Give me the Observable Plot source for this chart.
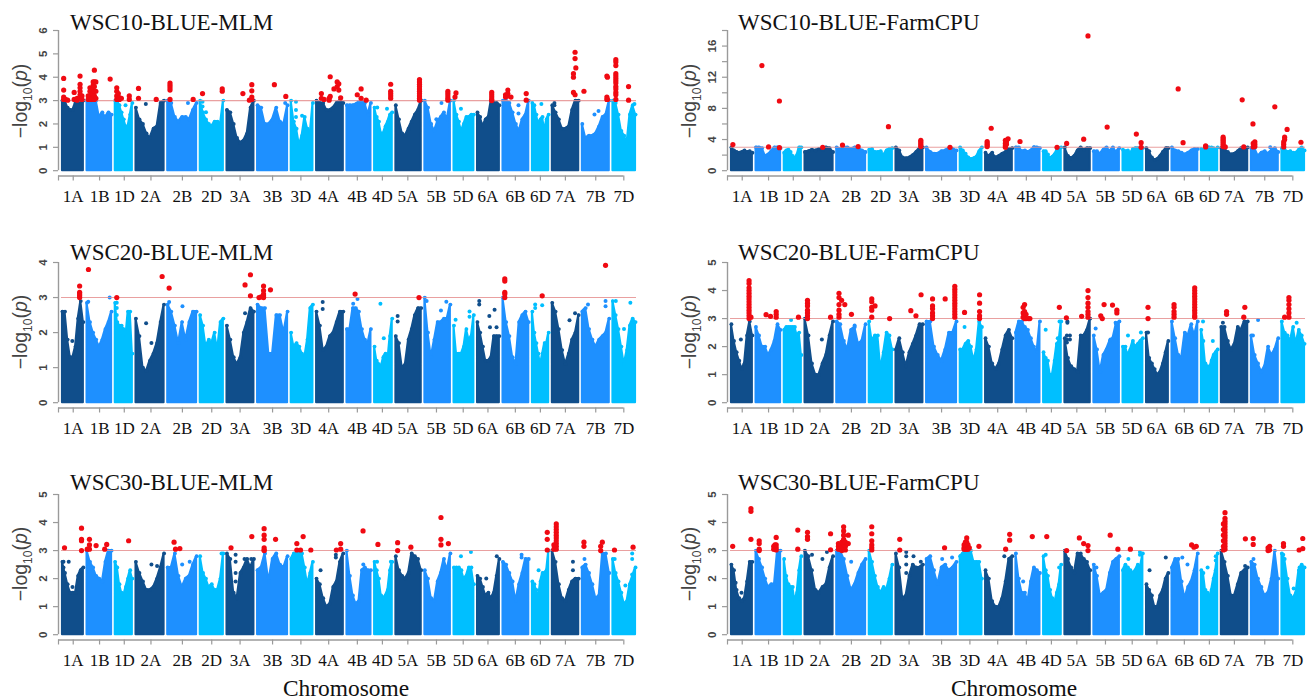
<!DOCTYPE html>
<html>
<head>
<meta charset="utf-8">
<script src="https://cdn.jsdelivr.net/npm/d3@7"></script>
<script src="https://cdn.jsdelivr.net/npm/@observablehq/plot@0.6"></script>
<style>
html,body{margin:0;padding:0;background:#fff;width:1311px;height:700px;overflow:hidden}
#page{position:relative;width:1311px;height:700px}
.panel{position:absolute}
.title{position:absolute;font:23px "Liberation Serif",serif;color:#111;white-space:nowrap;line-height:1}
.ylab{position:absolute;font:19.5px "Liberation Sans",sans-serif;color:#444;white-space:nowrap;transform:translate(-50%,-50%) rotate(-90deg);line-height:1}
.ylab sub{font-size:12px;line-height:0}
.xlab{position:absolute;font:23.4px "Liberation Serif",serif;color:#111;transform:translateX(-50%);white-space:nowrap;line-height:1}
[aria-label="y-axis tick label"]{font:bold 11.5px "Liberation Sans",sans-serif;fill:#444}
[aria-label="x-axis tick label"]{font:17px "Liberation Serif",serif;fill:#111}
</style>
</head>
<body>
<div id="page"></div>
<script>
// Wheat chromosomes and their lengths (Mb)
const chromosomes = ["1A","1B","1D","2A","2B","2D","3A","3B","3D","4A","4B","4D","5A","5B","5D","6A","6B","6D","7A","7B","7D"];
const chromLengths = [594,689,495,780,801,651,750,830,615,745,674,509,709,713,566,618,720,473,736,750,638];
const chromGap = 45;
const genomeTicks = [-78,305,990,1633,2327,3145,3908,4645,5490,6227,6950,7695,8347,9008,9753,10449,11092,11805,12456,13107,13896,14626];
const threshold = 3;

// Upper edge of the dense cloud of SNPs: nine readings along each chromosome
const wsc10MlmTops = [
[3,3,2.7,2.6,2.6,2.9,2.9,2.9,3],[3,3,3,3,2.3,2.5,2.3,2.5,2.4],[3,3,2.8,2.5,2.2,1.9,1.9,2.4,2.9],
[2.7,2.2,2,1.6,1.4,1.8,1.9,2.9,3],[3,2.9,2.3,2.1,2.3,2.3,2.2,2.6,2.9],[3,2.5,2.2,2,1.9,2.1,2.1,2,3],
[2.6,2.5,2,1.4,1.2,1.3,1.6,2.7,3],[2.8,2.7,2,2,2.2,2.7,2.1,2,2.8],[3,2.1,1.8,1.1,1.5,2.3,1.8,1.6,2.9],
[3,2.9,2.9,2.6,2.6,2.7,2.9,3,2.9],[2.8,2.8,2.8,2.85,2.95,2.95,2.9,2.4,2.9],[2.7,2.3,2.1,1.6,1.6,1.9,2.1,2.4,2.5],
[2.8,2.2,1.6,1.5,1.8,2.1,2.4,2.6,3],[3,2.7,2,1.7,2.1,2.3,2.5,2.2,3],[3,2.4,2.1,1.7,2,2.3,2.3,2.4,2.4],
[2.5,2.3,1.9,2.2,2.3,3,2.9,2.9,2.8],[3,3,2.9,2.5,2,1.7,2.2,2.4,3],[2.9,2.8,2.4,2,2.2,2.3,1.7,2.2,2.4],
[2.8,2.5,2.2,1.8,1.8,1.9,2.6,3,3],[2,1.4,1.5,1.5,1.6,1.9,2.3,2.4,3],[3,2.9,2.4,1.7,1.5,1.2,2.4,2.8,2.4]];
const wsc10FarmTops = [
[3,2.6,2.4,2.3,2.4,2.6,2.4,2.5,2.3],[3,3,2.9,1.9,2.1,2.5,3,3,2.9],[2.3,2.6,2.7,2.4,1.9,1.6,2,3,3],
[2.4,2.5,2.7,2.6,2.8,2.7,3,2.9,2.4],[3,2.8,3,3,2.8,3,2.9,2.6,2.4],[2.7,2.8,2.4,2.4,2.5,2,2.6,2.8,2.9],
[3,2.6,1.7,1.6,1.7,2,2.4,2.9,3],[3,2.4,2.2,2.2,2.5,2.6,2.9,2.8,2.6],[3,2.6,2.2,1.7,1.5,1.6,1.8,2.5,3],
[2.3,1.9,2.3,1.7,1.9,2.2,2.4,2.8,2.9],[3,3,2.5,2.6,2.4,2.6,3,3,2.9],[2.5,2.5,2.1,1.6,1.8,2.1,2.6,2.9,3],
[3,1.9,1.6,1.9,2.6,3,2.7,2.9,2.9],[2.5,2.5,2.2,2.7,3,2.5,3,2.4,2.9],[2.7,2.5,2.6,2.2,2.8,2.9,2.9,2.7,2.9],
[2.9,2.5,1.7,1.4,1.5,1.9,2.4,2.8,2.9],[3,2.6,2.5,2.3,2.1,2.3,2.6,2.8,2.8],[2.8,2.5,2.9,2.6,2.9,3,2.9,2.6,3],
[2.9,2.7,2.4,2.1,2.2,2.5,2.9,2.6,3],[2.9,2.9,1.9,2.3,2.5,2.2,2.6,2.9,2.4],[2.9,2.7,2.4,2.5,2.3,2.3,2.7,3,2.6]];
const wsc20MlmTops = [
[2.6,2.6,1.8,1.3,1.3,1.6,2.4,2.9,2.3],[2.85,2.3,2,1.8,1.6,1.8,2.1,2.3,2.6],[2.85,2.3,2.2,2.2,2.1,1.9,2.6,2.6,1.4],
[2.4,1.9,1,0.9,1.2,1.4,1.7,2.3,2.8],[2.8,2.6,2.2,1.7,2.3,1.8,2.3,2.6,2.6],[2.5,2.2,1.6,1.8,1.7,2,1.5,2.3,2.4],
[2.2,1.8,1.3,1.1,1.3,2,2.3,2.7,2.6],[2.8,2.7,2.7,1.4,1.4,2.5,2.5,2,2.6],[2,1.6,1.7,1.6,1.4,1.3,1.8,2.7,2.8],
[2.6,2.2,1.5,1.6,1.9,2,2.3,2.6,2.6],[2.1,2.1,2.7,2.7,2.6,2.1,1.8,1.7,2.1],[1.6,1.2,1.1,1,1.3,1.4,1.2,1.9,2.4],
[1.9,1.7,1,1.1,1.8,2.1,2.5,2.7,2.7],[3,2,1.3,1.8,2.3,2.3,2.4,2.4,2.8],[2.2,1.4,1.4,1.4,1.6,2.1,1.8,1.9,2.5],
[2.3,2,1.6,1.2,1.2,1.3,1.9,1.9,1.9],[3,2.3,1.9,1.3,1.1,2.3,2.5,2.6,2.3],[2.6,2,1.7,1.4,1.1,1.4,1.7,1.7,2],
[2.85,2.6,2.1,1.5,1.1,1.4,1.8,2,2.5],[2.6,2.7,2.1,1.8,1.6,1.8,1.9,2,2.4],[2.9,2.5,2.1,1.6,1.1,1.5,2.2,2.4,2.3]];
const wsc20FarmTops = [
[2.8,2.2,1.8,1.5,1.2,1.4,2.4,2.9,2.4],[2.7,2.4,2,2,1.7,1.9,2.2,2.8,2.6],[2.6,2.7,2.7,2.7,2.7,2.7,2.4,2.5,1.7],
[3,2.4,1.4,1,1,1.4,1.7,2.4,2.9],[2.9,2.8,2.2,1.9,2.6,2.7,2.1,2.2,2.8],[2.9,2.2,2.4,2.4,1.2,1.8,2.5,2.4,1.9],
[1.9,2.3,1.8,1.3,1.8,2.1,2.4,2.8,2.8],[2.9,2.9,2,1.7,1.5,1.9,2.5,2.5,2.9],[1.9,1.9,2.1,2.2,2,1.5,1.9,2.9,2.7],
[2.3,2,1.4,1.2,1.4,1.9,2.4,2.6,2.3],[2.5,2.9,2.9,2.7,2.6,2.3,2,1.8,2.9],[1.8,1.6,1.5,1,1,1.5,2.1,2.2,2.9],
[2.3,1.6,1.3,1.2,1.1,2.4,2.4,2.6,3],[2.4,1.9,1.1,1.7,1.9,2.2,2.3,2.8,2.9],[2,2,1.7,1.9,2.2,2,2.1,2.2,2.3],
[2.5,1.6,1.4,1.2,1,1.1,1.4,1.8,2.2],[2.9,2.3,1.7,1.6,2.5,2.4,2.8,2.4,2.9],[2.6,2.2,1.4,1.3,1.2,1.5,1.7,1.8,1.9],
[2.7,2.7,2.2,1.9,2.1,2.7,2.6,2.9,2.9],[2.4,1.7,1.4,1.1,1.3,2,1.7,1.9,2.3],[2.9,2.5,2.4,2.2,2.7,2.1,2.6,2.4,2.1]];
const wsc30MlmTops = [
[2.6,2.2,1.8,1.5,1.5,1.5,2.1,2.3,2.4],[3,2.6,2.4,2.1,2,1.9,2.6,3,3],[2.6,2.4,1.8,1.5,1.4,1.7,2,2.3,2],
[2.6,2.2,1.9,1.6,1.6,1.7,2,2.4,2.9],[2.4,2.4,2.9,2.1,1.7,2,2.1,2.5,2.8],[2.8,2.2,2,1.7,1.8,1.6,1.6,2,2.9],
[2.9,2.7,1.5,1.3,2.2,2.4,2.7,2.4,2.7],[2.3,2.4,2.9,1.9,2.7,2.9,2.5,2.4,2.8],[2.7,2.9,2.9,2.9,2.9,2.4,1.8,2.2,2.6],
[2,1.8,1.3,1,1.1,1.7,1.9,2.6,2.9],[3,2.1,1.4,1.1,1.2,2.3,2.4,2.3,2.3],[2.6,2.3,2,1.4,1.3,1.4,1.6,2.3,2.6],
[2.8,2.3,2.1,2,2.2,2.9,2.8,2.7,2.3],[2.3,2,1.3,1.2,1.9,2.2,2.7,2.3,2.9],[2.4,2.4,2.4,2.3,2,2.1,2.4,2.4,1.8],
[2.1,2,1.7,1.4,1.5,1.3,1.5,2.1,2.7],[2.6,2.5,2.2,1.9,1.2,1.8,2.2,2.7,2.7],[1.9,1.8,1.6,1.3,1.9,2.2,2.2,2.3,3],
[3,2.6,1.8,1.3,1.2,1.6,1.9,2,2],[2.4,2.5,2.2,1.8,1.3,1.4,2.9,2.9,2.2],[2.7,2.2,1.9,1.5,1.1,1.2,1.8,2.1,2.4]];
const wsc30FarmTops = [
[2.5,2.3,1.6,1.3,1.2,1.3,1.9,2.6,2.6],[3,2.7,2.4,2,1.7,1.8,1.8,3,3],[2.7,2.1,1.8,1.7,1.7,1.2,1.5,2.3,2.8],
[3,2.8,2.3,1.6,1.5,1.7,1.8,2.4,2.8],[3,3,2.7,2.1,1.6,1.8,2.2,2.5,2.7],[3,2.6,2.1,1.7,1.5,1.7,1.6,2,2.5],
[2.9,2.4,1.3,1.4,2.1,2.5,2.4,2.4,2.5],[2.7,2.8,2.3,1.8,2.4,2.5,2.3,2.4,2.6],[2.8,2.9,3,3,3,2.6,2.6,2.6,2],
[2.3,2,1.2,1,1,1.3,1.9,2.7,2.8],[2.9,2,1.5,1.5,1.2,1.9,2.4,2.3,2.2],[2.8,2.3,2.1,1.6,1.3,1.1,1.5,1.8,2.5],
[3,2.7,2.4,2.2,2.9,2.9,2.7,2.6,2.3],[2.5,2.1,1.4,1.5,1.6,2.2,2.6,2.7,2.8],[2.3,2.5,2.4,2.3,2.2,2.3,2.5,2.4,2.9],
[1.8,1.6,1.4,1,1,1.4,1.6,2,2.2],[2.4,2.7,2.7,1.9,1.3,1.7,1.9,2.3,2.9],[2.3,2.2,1.6,1.5,1.3,1.6,2,2.3,2.9],
[3,2.6,2.1,1.4,1.4,1.8,2.2,2.3,2.4],[2.6,2.5,2,1.7,1.4,1.5,2,3,2],[2.9,2.7,2,1.4,1.3,1.5,2.3,2.5,2.4]];

// Significant SNPs: [chromosome, % along chromosome, [-log10(p) values]]
const wsc10MlmHits = [
["1A",6,[3.95,3.45,3.15,3.05]],["1A",15,[3.05]],["1A",25,[3.02]],["1A",56,[3.35,3.05]],["1A",70,[3.1,3.02]],["1A",84,[4.05,3.7,3.55,3.4,3.25,3.1]],["1A",93,[3.05,3.2]],
["1B",5,[3.05,3.2]],["1B",12,[3.05,3.2,3.4,3.55]],["1B",18,[3.05,3.3,3.5]],["1B",25,[3.1,3.3,3.65,3.8]],["1B",30,[3.05,3.2,3.4,3.6,3.8,4.3]],["1B",36,[3.1,3.4,3.8]],["1B",94,[3.92]],
["1D",9,[3.05,3.2,3.4,3.55]],["1D",18,[3.05,3.15,3.3]],["1D",25,[3.05,3.12]],["1D",36,[3.1]],["1D",82,[3.05,3.2]],
["2A",9,[3.52,3.1]],["2A",72,[3.05]],["2B",8,[3.75,3.65,3.55,3.45,3.05]],["2B",88,[3.05]],["2D",10,[3.3]],["2D",95,[3.5,3.4]],
["3A",59,[3.3]],["3A",83,[3.02]],["3A",92,[3.68,3.42,3.15,3.05]],["3B",56,[3.68]],["3B",94,[3.18]],
["4A",18,[3.3,3.1]],["4A",28,[3.05]],["4A",47,[3.02,3.1]],["4A",51,[4.02,3.18]],["4A",65,[3.5]],["4A",77,[3.8,3.6]],["4A",83,[3.72,3.45]],["4A",90,[3.12]],
["4B",43,[3.25]],["4B",59,[3.5,3.1]],["4B",80,[3.02]],["4D",91,[3.7,3.4,3.3,3.2,3.1]],
["5A",93,[3.9,3.8,3.7,3.6,3.5,3.4,3.3,3.2,3.1,3.02]],["5B",90,[3.4,3.3,3.2,3.1,3.02]],["5D",5,[3.15]],["5D",10,[3.33]],
["6A",65,[3.35,3.25,3.15,3.05,3]],["6B",10,[3.25,3.15]],["6B",19,[3.45,3.3,3.2]],["6B",31,[3.15]],["6B",90,[3.3,3.02]],
["7A",80,[4.15,4,3.35]],["7A",86,[5.07,4.8,3.25]],["7A",89,[4.4]],["7B",6,[3.4]],["7B",91,[4.05,3.15,3.05]],["7B",93,[4,3.05]],
["7D",13,[4.75,4.65,4.5,4.15,4.05,3.95,3.85,3.75,3.6,3.5,3.35,3.25,3.05]],["7D",69,[3.6,3.02]]];
const wsc10FarmHits = [
["1A",7,[3.35]],["1B",24,[13.5]],["1B",51,[3.05]],["1B",95,[8.95,2.95]],["2A",63,[3]],["2B",20,[3.3]],["2B",74,[3.1]],["2D",83,[5.65]],
["3A",92,[3.9,3.7,3.5,3.3,3.1]],["3B",78,[3]],["4A",6,[3.75,3.5,3.3,3.1]],["4A",21,[5.45]],["4A",74,[3.9,3.5,3.2,3]],["4A",78,[3.7,3.4]],["4A",84,[4.1]],
["4B",17,[3.75]],["4D",76,[3]],["5A",7,[3.5]],["5A",74,[4.05]],["5A",91,[17.3]],["5B",52,[5.6]],["5D",67,[4.7]],["5D",91,[3.6,3]],
["6B",24,[10.5]],["6B",43,[3.6]],["6D",26,[3.2,3.05]],["7A",7,[4.3,4.1,3.9,3.7,3.5,3.3,3.1]],["7A",15,[3.05]],["7A",79,[9.1]],["7A",85,[3.05]],
["7B",6,[6]],["7B",7,[3.5,3.05]],["7B",13,[3.7,3.4,3.1]],["7B",87,[8.2]],["7D",8,[3.7,3.4,3.05]],["7D",12,[4.3,4]],["7D",23,[5.3]],["7D",84,[3.65]]];
const wsc20MlmHits = [
["1A",82,[3.33,3.15,3.1,3.05,3]],["1B",6,[3.8]],["1D",9,[3]],["2A",93,[3.6]],["2B",5,[3.27]],["3A",67,[3.36]],["3A",87,[3.65,3.05]],
["3B",5,[3]],["3B",12,[3.02]],["3B",20,[3.33,3.2,3.1,3.05,3]],["3B",43,[3.22]],["4B",34,[3.1]],["5A",91,[3]],["6B",7,[3.53,3.47,3.15,3.1,3]],["6D",60,[3.05]],["7B",86,[3.92]]];
const wsc20FarmHits = [
["1A",84,[4.35,4.25,4.1,4,3.9,3.8,3.7,3.6,3.5,3.4,3.3,3.2,3.1,3]],["1A",93,[3.05]],["1B",41,[3.14]],["1B",59,[3.08]],["1B",82,[3.25,3.15,3.05]],["1D",83,[3.05]],
["2A",9,[3.65,3.55,3.45,3.3,3.2,3.1,3]],["2A",91,[3.05]],["2B",8,[3.9,3.75,3.5,3.3,3.15,3.05]],["2B",17,[3.65]],["2B",28,[3.5]],["2B",51,[3.15]],
["2D",11,[3.7,3.6,3.4,3.3,3.05]],["2D",25,[3.45]],["2D",88,[3]],["3A",55,[3.28]],["3A",74,[3.1]],["3A",93,[3.85]],
["3B",20,[3.7,3.45,3.35,3.2,3.1,3]],["3B",62,[3.7]],["3B",94,[4.15,4.05,3.95,3.85,3.75,3.65,3.55,3.45,3.35,3.25,3.15,3.05]],["3D",20,[3.22]],["3D",89,[3.85,3.55,3.25,3.1,3]],
["4B",30,[3.4,3.2,3.05]],["4B",36,[3.5,3.25,3.1,3]],["4B",42,[3.15,3]],["4B",52,[3]],["4B",58,[3]],["4D",89,[3.4]],
["5A",6,[3.03]],["5A",66,[3.08]],["5A",91,[4,3.75,3.55,3.4,3.25,3.15,3.05]],["5B",27,[3.1]],["5B",33,[3]],["5B",40,[3.5]],["5B",73,[3.48]],["5B",90,[3.3,3.2]],
["6A",7,[3.4,3]],["6B",8,[3.5,3.4,3.25,3.15,3.05]],["6B",88,[4.1,4,3.9,3.8,3.7,3.6,3.5,3.4,3.3,3.2,3.1,3.05]],
["7A",20,[3.25,3.15]],["7A",85,[3.05]],["7A",89,[3.4]],["7D",12,[3.05]],["7D",31,[3.75,3.65,3.5,3.35,3.2,3.05]]];
const wsc30MlmHits = [
["1A",10,[3.1]],["1A",91,[3.8,3.4,3.35,3]],["1B",1,[3.05]],["1B",10,[3.4,3.2,3.05]],["1B",37,[3.18]],["1B",72,[3.05]],["1B",80,[3.22]],["1D",78,[3.35]],
["2B",22,[3.3]],["2B",27,[3.05]],["2B",42,[3.07]],["3A",15,[3.1]],["3A",92,[3.5]],["3B",22,[3.78,3.55,3.4,3.1,3.02,3]],["3B",60,[3.4]],
["3D",26,[3.25,3.02]],["3D",43,[3.02]],["3D",55,[3.5]],["3D",90,[3.02]],["4A",74,[3.02]],["4A",90,[3.25,3.05]],["4B",67,[3.7]],["4D",19,[3.22]],
["5A",7,[3.28,3]],["5A",59,[3.12]],["5B",63,[4.18,3.4,3.2]],["5B",92,[3.25]],["6D",91,[3.65,3.4,3.02]],
["7A",6,[3.2,3.05]],["7A",15,[3.95,3.85,3.75,3.65,3.55,3.45,3.35,3.25,3.15,3.05]],["7B",6,[3.3,3.15]],["7B",68,[3.15,3]],["7B",74,[3.3]],["7D",7,[3.02]],["7D",89,[3.12]]];
const wsc30FarmHits = [
["1A",6,[3.15]],["1A",93,[4.5,4.4,3.4]],["1B",13,[3.35,3.25,3.05,3]],["1B",72,[3.15,3.05]],["1B",77,[3.2,3.05]],["1B",82,[3.47,3.2,3.1,3.02]],["1D",79,[3.73,3.05]],
["2A",9,[3.65,3.5,3.4]],["2A",91,[3.6,3.03]],["2B",6,[3.25,3.15,3.05]],["2B",12,[3.2,3.05]],["2B",18,[3.3,3.1,3]],["2B",24,[3.85,3.7,3.55,3.4,3.25,3.1]],["2B",30,[3.3,3.15,3.02]],["2B",40,[3.55,3.25]],
["2D",11,[3.85,3.6,3.35,3.2,3.1,3.02]],["3A",14,[3.4,3.02]],["3B",60,[3.1]],["3D",18,[3.2,3.1,3.05]],["3D",24,[3.3,3.15,3.05]],["3D",30,[3.45,3.3,3.15,3.05]],["3D",36,[3.2,3.1,3.05]],["3D",42,[3.1]],["3D",86,[3.15]],
["4A",75,[3.05]],["4A",90,[3.58,3.37]],["4B",68,[3.5]],["4D",18,[3.5]],["5A",7,[3]],["5A",57,[3.45]],["5A",74,[3.25]],["5A",91,[3.18,3]],["5B",64,[3.55]],["5B",94,[3.05]],["5D",37,[3.05]],
["6B",76,[3.2]],["6B",85,[3.12]],["6B",94,[3.15]],["7A",8,[3.95,3.75,3.55,3.35,3.15,3.02]],["7A",14,[4.35,4.15,4.05,3.95,3.85,3.75,3.65,3.55,3.45,3.35,3.25,3.15,3.05]],["7A",91,[3.42]],
["7B",7,[3.43,3.22]],["7B",62,[3.1,3]],["7B",68,[3.15,3.02]],["7D",7,[3.25,3.15]],["7D",76,[3.02]],["7D",92,[3.43,3.07]]];

// Isolated SNPs standing clear of the dense cloud, below the threshold
const wsc10MlmLoose = [
["1D",60,[2.8]],["2A",35,[2.85]],["2B",70,[2.9]],["2D",10,[2.95,2.75]],["2D",25,[2.5]],["3B",92,[2.9]],["3D",22,[2.95,2.6,2.3]],["3D",50,[2.35]],
["4D",15,[2.7]],["4D",70,[2.65]],["5B",65,[2.9]],["5B",45,[2.2]],["5D",35,[2.65]],["6A",90,[2.85]],["6B",60,[2.8,2.45]],["6D",55,[2.85]],["7A",8,[2.9,2.8]],["7B",45,[2.4]],["7B",60,[2.55]],["7D",95,[2.85]]];
const wsc10FarmLoose = [["4B",75,[3]],["6D",45,[3]],["7B",70,[3]],["6A",90,[2.9]]];
const wsc20MlmLoose = [
["1A",47,[1.76]],["1B",5,[2.88]],["1B",92,[3]],["1D",9,[2.85,2.7,2.5]],["2A",36,[2.27]],["2A",55,[1.7]],["2B",51,[2.75]],["2B",5,[2.87]],["3A",67,[2.55]],
["4A",23,[2.87,2.67]],["4B",44,[2.96]],["4B",26,[2.82]],["4D",33,[2.82]],["4D",52,[1.84]],["5A",7,[2.47,2.32]],["5B",7,[2.9]],["5B",63,[2.63]],["5B",84,[2.88]],
["5D",8,[2.37]],["5D",78,[2.6,2.45]],["6A",8,[2.9,2.8]],["6A",54,[2.47]],["6A",57,[2.15]],["6A",78,[2.65]],["6A",87,[2.15]],["6D",17,[2.8,2.7]],["6D",60,[2.78]],
["7A",65,[2.35]],["7A",86,[2.55]],["7B",21,[2.8]],["7B",86,[2.9,2.75]],["7D",13,[2.9]],["7D",77,[2.85]],["7D",49,[2.1]]];
const wsc20FarmLoose = [
["1A",45,[2.25]],["1D",40,[2.95]],["2A",60,[2.25]],["2B",62,[2.75]],["3D",20,[2.7]],["4B",12,[2.6]],["4D",12,[2.6]],["4D",80,[2.3]],["4D",90,[2.9]],
["5A",8,[2.4,2.25,2.15]],["5A",20,[2.4,2.25]],["5A",10,[2.85,2.9]],["5B",7,[2.65]],["5B",65,[2.25]],["5B",85,[2.85]],["5D",25,[2.4]],["5D",90,[2.5]],
["6A",7,[2.5]],["6D",10,[2.9]],["6D",70,[2.2]],["7A",6,[2.85]],["7B",6,[2.4]],["7B",25,[2.95]],["7D",65,[2.85]]];
const wsc30MlmLoose = [
["1A",5,[2.6,2.4]],["1A",30,[2.6]],["1A",48,[1.7]],["2A",55,[2.5]],["2A",75,[2.45]],["2B",50,[2.5]],["2B",76,[2.6]],["2D",92,[2.9]],["3A",32,[2.85,2.6,2.2,1.9]],["3A",65,[2.7]],["3A",90,[2.7]],
["4A",15,[2.3]],["4A",72,[2.85,2.75]],["4B",68,[2.5]],["4D",14,[2.6]],["4D",92,[2.6]],["5D",35,[2.8]],["5D",85,[2.95]],["6A",40,[2]],["6A",88,[2.8]],["6B",72,[2.85,2.75]],["6D",38,[2.3]],
["7A",78,[2.6,2.3]],["7B",8,[2.7]],["7D",8,[2.7]],["7D",85,[2.9,2.7,2.15]],["7D",55,[1.75]]];
const wsc30FarmLoose = [
["1A",20,[1.85]],["1A",48,[1.5]],["2A",25,[2.85]],["2A",62,[2.7]],["2A",78,[2.95]],["2B",50,[2.6]],["3A",38,[2.95,2.8,2.5,2.2]],["3A",65,[2.8]],["3A",92,[2.6]],["3B",52,[2.7]],["3B",85,[2.75]],
["4A",70,[2.8]],["4B",30,[1.9]],["4D",12,[2.85]],["4D",88,[2.4]],["5B",10,[2.4]],["5D",27,[2.7]],["5D",85,[2.95,2.85]],["6A",14,[2.3]],["6A",88,[2.75]],["6B",40,[2.75]],["6B",60,[2.5]],
["6D",38,[2.4]],["6D",88,[2.8,2.65]],["7A",90,[2.45]],["7B",8,[2.7]],["7D",6,[2.85]],["7D",52,[1.65]],["7D",78,[2.4]]];

const panels = [
 {title:"WSC10-BLUE-MLM",     tops:wsc10MlmTops, hits:wsc10MlmHits, loose:wsc10MlmLoose, yMax:6,  yTicks:[0,1,2,3,4,5,6],            yLabels:[0,1,2,3,4,5,6]},
 {title:"WSC10-BLUE-FarmCPU", tops:wsc10FarmTops,hits:wsc10FarmHits,loose:wsc10FarmLoose,yMax:18, yTicks:[0,2,4,6,8,10,12,14,16,18], yLabels:[0,4,8,12,16]},
 {title:"WSC20-BLUE-MLM",     tops:wsc20MlmTops, hits:wsc20MlmHits, loose:wsc20MlmLoose, yMax:4,  yTicks:[0,1,2,3,4],                yLabels:[0,1,2,3,4]},
 {title:"WSC20-BLUE-FarmCPU", tops:wsc20FarmTops,hits:wsc20FarmHits,loose:wsc20FarmLoose,yMax:5,  yTicks:[0,1,2,3,4,5],              yLabels:[0,1,2,3,4,5]},
 {title:"WSC30-BLUE-MLM",     tops:wsc30MlmTops, hits:wsc30MlmHits, loose:wsc30MlmLoose, yMax:5,  yTicks:[0,1,2,3,4,5],              yLabels:[0,1,2,3,4,5]},
 {title:"WSC30-BLUE-FarmCPU", tops:wsc30FarmTops,hits:wsc30FarmHits,loose:wsc30FarmLoose,yMax:5,  yTicks:[0,1,2,3,4,5],              yLabels:[0,1,2,3,4,5]}
];
const shades = ["#104E8B","#1E90FF","#00BFFF"];
const rowTops = [0,232,464];
const colLefts = [0,669];
const rowLabelY = [101,332,564];

const starts = new Map();
{let s=0; chromosomes.forEach((c,i)=>{starts.set(c,{start:s,len:chromLengths[i]}); s+=chromLengths[i]+chromGap;});}
const genomeEnd = chromLengths.reduce((a,b)=>a+b,0)+chromGap*(chromosomes.length-1);
const chromPad = 24;
const pos = (chr,pct)=>{const c=starts.get(chr); return c.start+chromPad+(c.len-2*chromPad)*pct/100;};
const expand = list => list.flatMap(([chr,pct,vals])=>vals.map(v=>({chr,x:pos(chr,pct),v})));
const colorScale = {domain:chromosomes, range:chromosomes.map((c,i)=>shades[i%3])};

const page = document.getElementById("page");
function add(cls,html,x,y){const d=document.createElement("div");d.className=cls;d.innerHTML=html;d.style.left=x+"px";d.style.top=y+"px";page.appendChild(d);return d;}

panels.forEach((p,i)=>{
  const col=i%2,row=Math.floor(i/2),left=colLefts[col],top=rowTops[row];
  const floor=-p.yMax*0.0379;
  const cloud=p.tops.flatMap((arr,ci)=>arr.map((v,k)=>({chr:chromosomes[ci],x:pos(chromosomes[ci],k/(arr.length-1)*100),v})));
  const hits=expand(p.hits), loose=expand(p.loose);
  const plot=Plot.plot({
    width:642,height:212,marginLeft:58,marginRight:6,marginTop:30,marginBottom:36.5,
    style:{background:"transparent",overflow:"visible"},
    x:{domain:[genomeTicks[0],genomeEnd],range:[58,636],axis:null},
    y:{domain:[floor,p.yMax],range:[175.5,30],axis:null},
    color:colorScale,
    marks:[
      Plot.areaY(cloud,{x:"x",y1:0,y2:"v",z:"chr",fill:"chr",stroke:"chr",strokeWidth:2,strokeLinejoin:"round"}),
      Plot.dot(cloud,{x:"x",y:"v",r:1.9,fill:"chr"}),
      Plot.dot(loose,{x:"x",y:"v",r:2,fill:"chr"}),
      Plot.ruleY([threshold],{x1:0,x2:genomeEnd,stroke:"#e58f8f",strokeWidth:1.1,strokeOpacity:.85}),
      Plot.dot(hits,{x:"x",y:"v",r:2.6,fill:"#f00a12"}),
      Plot.ruleY([floor],{x1:genomeTicks[0],x2:genomeTicks[genomeTicks.length-1],stroke:"#9a9a9a",strokeWidth:1.4}),
      Plot.ruleX([genomeTicks[0]],{y1:0,y2:p.yMax,stroke:"#9a9a9a",strokeWidth:1.4}),
      Plot.axisX(genomeTicks,{anchor:"bottom",label:null,tickSize:5,tickPadding:9,stroke:"#9a9a9a",strokeWidth:1.2,
        tickFormat:d=>{const k=genomeTicks.indexOf(d);return k>0?chromosomes[k-1]:"";}}),
      Plot.axisY(p.yTicks,{anchor:"left",label:null,tickSize:5,tickPadding:7,tickRotate:-90,stroke:"#9a9a9a",strokeWidth:1.2,
        tickFormat:d=>p.yLabels.includes(d)?String(d):""})
    ]
  });
  plot.classList.add("panel");
  plot.style.position="absolute";plot.style.left=left+"px";plot.style.top=top+"px";
  page.appendChild(plot);
  add("title",p.title,left+70-(col?1:0),top+(row===0?11:row===1?9:7));
  add("ylab","−log<sub>10</sub>(<i>p</i>)",left+21,rowLabelY[row]);
});
add("xlab","Chromosome",346,677);
add("xlab","Chromosome",1014,677);
</script>
</body>
</html>
